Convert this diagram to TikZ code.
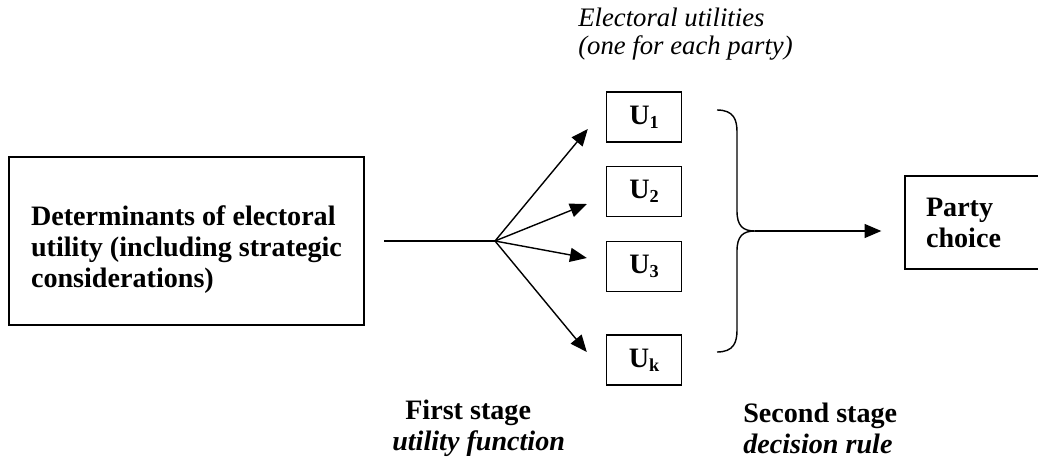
\documentclass[tikz,border=0pt]{standalone}
\usepackage{fontspec}
\setmainfont{Liberation Serif}
\usetikzlibrary{arrows.meta,calc}

\def\px{0.025cm}
\newcommand{\Usub}[1]{\raisebox{-0.3ex}{\fontsize{13}{13}\selectfont #1}}

\tikzset{
  bigbox/.style={draw, line width=1.6pt, minimum width=355*\px, minimum height=168*\px},
  bigtext/.style={inner sep=0pt, align=left, font=\fontsize{20}{22}\selectfont\bfseries},
  ubox/.style={draw, line width=1pt, minimum width=75*\px, minimum height=50*\px,
    inner sep=0pt, font=\fontsize{20}{22}\selectfont\bfseries},
  choicebox/.style={draw, line width=1pt, minimum height=93*\px, text width=108*\px,
    inner xsep=21*\px, align=left, font=\fontsize{20}{22}\selectfont\bfseries},
  stagelabel/.style={anchor=west, inner sep=0pt, align=left, font=\fontsize{20}{22}\selectfont\bfseries},
  arr/.style={line width=1pt, -{Triangle[length=4.2mm, width=3.5mm]}},
}

\begin{document}
\begin{tikzpicture}[x=\px, y=-\px]
\useasboundingbox (0,0) rectangle (1038,466);

%input box
\node[bigbox] (det) at (186.5,241) {};
\node[bigtext] (dettxt) at ($(det.center)+(0,9)$) {Determinants of electoral\\utility (including strategic\\considerations)};
\coordinate (fork) at (495,241);
\draw[line width=1pt] (det.east) ++(19,0) -- (fork);

%utilities
\node[anchor=west, inner sep=0pt, align=left, font=\fontsize{19}{19.5}\selectfont\itshape] (title) at (578,34)
  {Electoral utilities\\(one for each party)};
\foreach \n/\y/\s in {u1/117/1, u2/191.5/2, u3/266.5/3, uk/360/k}
{ \node[ubox] (\n) at (644,\y) {U\Usub{\s}}; }
\foreach \n/\dx/\dy in {u1/-18/12, u2/-19/12.5, u3/-19/-8.5, uk/-19/-8}
{ \draw[arr] (fork) -- ($(\n.west)+(\dx,\dy)$); }

%brace
\coordinate (tip) at (755,231);
\draw[line width=1pt] (717,110) .. controls (734,110) and (737,120) .. (737,132) -- (737,211)
  .. controls (737,226) and (743,231) .. (tip)
  .. controls (743,231) and (737,236) .. (737,251) -- (737,330)
  .. controls (737,342) and (734,352) .. (717,352);

%choice
\node[choicebox] (choice) at (980,222.5) {Party\\choice};
\draw[arr] (tip) -- ($(choice.west |- tip)+(-23,0)$);

%stages
\node[stagelabel] (first) at (392,428) {\hspace{0.325cm}First stage\\\textit{utility function}};
\node[stagelabel] (second) at (743,428) {Second stage\\\textit{decision rule}};
\end{tikzpicture}
\end{document}
